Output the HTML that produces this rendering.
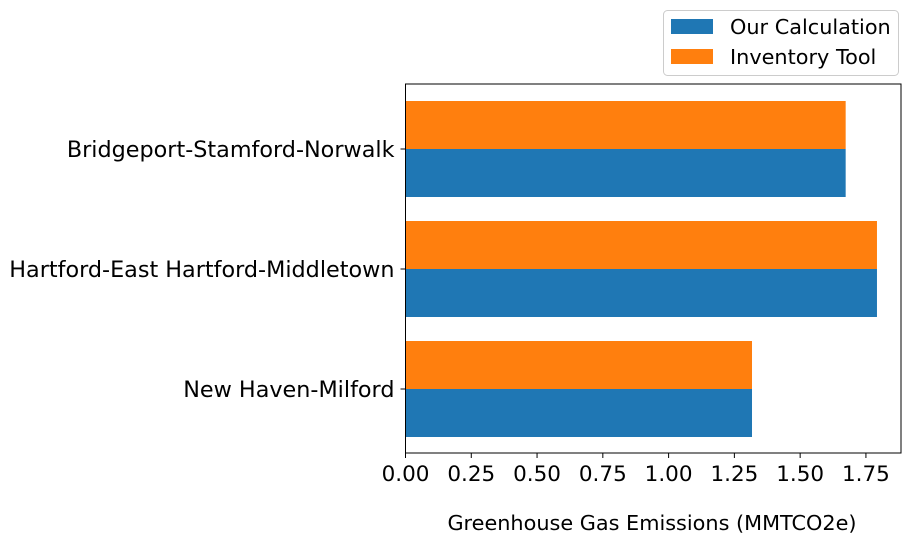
<!DOCTYPE html>
<html><head><meta charset="utf-8"><style>
body{margin:0;background:#fff}
svg text{font-family:"DejaVu Sans","Liberation Sans",sans-serif;fill:#000}
</style></head><body>
<svg id="c" width="910" height="544"></svg>
<script>
const categories=["Bridgeport-Stamford-Norwalk","Hartford-East Hartford-Middletown","New Haven-Milford"];
const ourCalc=[1.673,1.792,1.317];
const inventoryTool=[1.673,1.792,1.317];
const xTicks=[0,0.25,0.5,0.75,1.0,1.25,1.5,1.75];
const xTickLabels=["0.00","0.25","0.50","0.75","1.00","1.25","1.50","1.75"];
const svg=document.getElementById('c');
const NS='http://www.w3.org/2000/svg';
const L=405.5,R=901,T=84,B=453,scale=263.1;
const X=v=>L+v*scale;
const Yc=i=>149+i*120;
function mk(t,a){const e=document.createElementNS(NS,t);for(const k in a)e.setAttribute(k,a[k]);svg.appendChild(e);return e;}
categories.forEach((c,i)=>{
 let r=mk('rect',{x:L,y:Yc(i)-48,width:X(inventoryTool[i])-L,height:48,fill:'#ff7f0e'});
 
 
 r=mk('rect',{x:L,y:Yc(i),width:X(ourCalc[i])-L,height:48,fill:'#1f77b4'});
 
 
 mk('line',{x1:L-5,x2:L,y1:Yc(i),y2:Yc(i),stroke:'#000','stroke-width':1});
 const t=mk('text',{x:L-11,y:Yc(i)+8,'text-anchor':'end','font-size':22.3});
 t.textContent=c;
 
 
});
xTicks.forEach((v,i)=>{
 mk('line',{x1:X(v),x2:X(v),y1:B,y2:B+5,stroke:'#000','stroke-width':1});
 const t=mk('text',{x:X(v),y:B+28,'text-anchor':'middle','font-size':21.5});
 t.textContent=xTickLabels[i];
 
 
});
const f=mk('rect',{x:L,y:T,width:R-L,height:B-T,fill:'none',stroke:'#000','stroke-width':1});


const xl=mk('text',{x:652,y:530,'text-anchor':'middle','font-size':20.8});
xl.textContent='Greenhouse Gas Emissions (MMTCO2e)';


const lg=mk('rect',{x:663.5,y:10.5,width:235,height:65,rx:4,fill:'#fff',stroke:'#ccc','stroke-width':1});


[['#1f77b4','Our Calculation',19],['#ff7f0e','Inventory Tool',49]].forEach(([col,lab,y])=>{
 const p=mk('rect',{x:671,y:y,width:42,height:15,fill:col});
 
 
 const t=mk('text',{x:730,y:y+15,'font-size':20.8});
 t.textContent=lab;
 
 
});
</script>
</body></html>
